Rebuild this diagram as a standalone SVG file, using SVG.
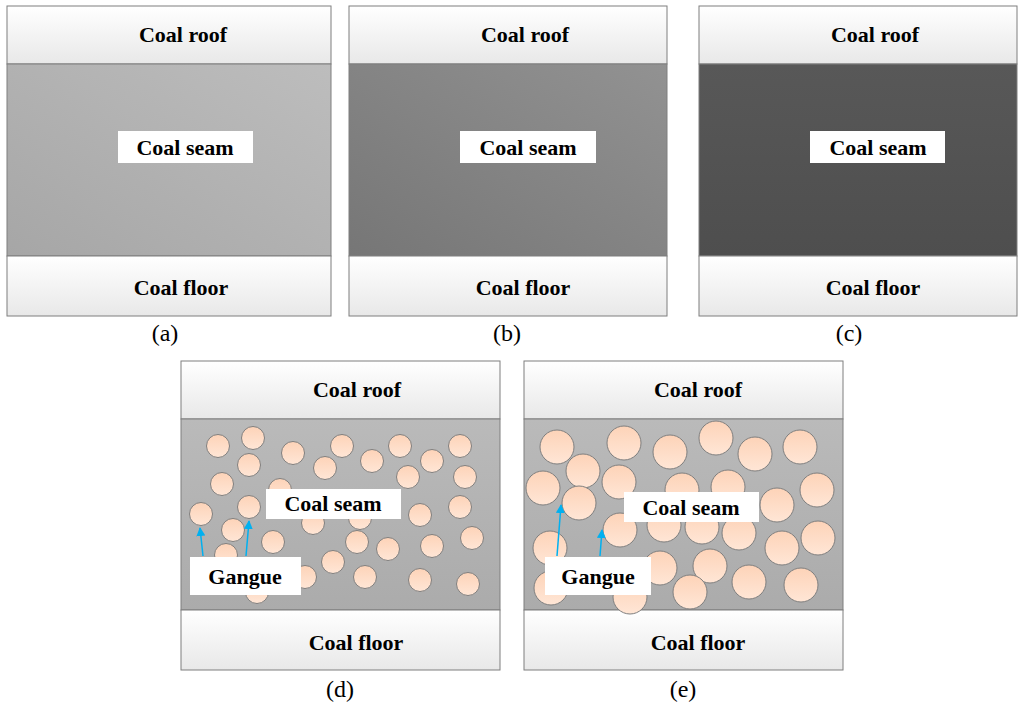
<svg xmlns="http://www.w3.org/2000/svg" width="1024" height="712" viewBox="0 0 1024 712">
<defs>
<linearGradient id="rf" x1="0" y1="0" x2="0" y2="1"><stop offset="0" stop-color="#ffffff"/><stop offset="1" stop-color="#e8e8e8"/></linearGradient>
<linearGradient id="sa" x1="1" y1="0" x2="0" y2="1"><stop offset="0" stop-color="#bdbdbd"/><stop offset="1" stop-color="#a6a6a6"/></linearGradient>
<linearGradient id="sb" x1="1" y1="0" x2="0" y2="1"><stop offset="0" stop-color="#929292"/><stop offset="1" stop-color="#767676"/></linearGradient>
<linearGradient id="sc" x1="0" y1="0" x2="0" y2="1"><stop offset="0" stop-color="#585858"/><stop offset="1" stop-color="#4e4e4e"/></linearGradient>
<linearGradient id="sd" x1="0" y1="0" x2="0" y2="1"><stop offset="0" stop-color="#bababa"/><stop offset="1" stop-color="#ababab"/></linearGradient>
<linearGradient id="g" x1="0" y1="0" x2="0" y2="1"><stop offset="0" stop-color="#fdd3b8"/><stop offset="1" stop-color="#ffe6d6"/></linearGradient>
<marker id="ar" viewBox="0 0 10 10" refX="9" refY="5" markerWidth="6" markerHeight="6" orient="auto"><path d="M0,0 L10,5 L0,10 z" fill="#00b0f0"/></marker>
</defs>
<style>
.b{stroke:#7f7f7f;stroke-width:1}
.t{font-family:"Liberation Serif",serif;font-weight:bold;font-size:22px;text-anchor:middle;fill:#000}
.c{font-family:"Liberation Serif",serif;font-size:24px;text-anchor:middle;fill:#000}
.w{fill:#fff}
.d circle{r:11.5px}
circle{fill:url(#g);stroke:#7f7f7f;stroke-width:1}
.ln{stroke:#00b0f0;stroke-width:1.5;fill:none;marker-end:url(#ar)}
</style>
<rect width="1024" height="712" fill="#fff"/>
<g id="pa">
<rect class="b" x="7" y="6" width="324" height="58" fill="url(#rf)"/>
<rect class="b" x="7" y="64" width="324" height="192" fill="url(#sa)"/>
<rect class="b" x="7" y="256" width="324" height="60" fill="url(#rf)"/>
<text class="t" x="183" y="42">Coal roof</text>
<rect class="w" x="118" y="131" width="135" height="32"/><text class="t" x="185" y="155">Coal seam</text>
<text class="t" x="181" y="295">Coal floor</text>
<text class="c" x="165" y="341">(a)</text>
</g>
<g id="pb">
<rect class="b" x="349" y="6" width="318" height="58" fill="url(#rf)"/>
<rect class="b" x="349" y="64" width="318" height="192" fill="url(#sb)"/>
<rect class="b" x="349" y="256" width="318" height="60" fill="url(#rf)"/>
<text class="t" x="525" y="42">Coal roof</text>
<rect class="w" x="460" y="131" width="136" height="32"/><text class="t" x="528" y="155">Coal seam</text>
<text class="t" x="523" y="295">Coal floor</text>
<text class="c" x="507" y="341">(b)</text>
</g>
<g id="pc">
<rect class="b" x="699" y="6" width="318" height="58" fill="url(#rf)"/>
<rect class="b" x="699" y="64" width="318" height="192" fill="url(#sc)"/>
<rect class="b" x="699" y="256" width="318" height="60" fill="url(#rf)"/>
<text class="t" x="875" y="42">Coal roof</text>
<rect class="w" x="810" y="131" width="135" height="32"/><text class="t" x="878" y="155">Coal seam</text>
<text class="t" x="873" y="295">Coal floor</text>
<text class="c" x="849" y="341">(c)</text>
</g>
<g id="pd">
<rect class="b" x="181" y="361" width="319" height="58" fill="url(#rf)"/>
<rect class="b" x="181" y="419" width="319" height="191" fill="url(#sd)"/>
<rect class="b" x="181" y="610" width="319" height="60" fill="url(#rf)"/>
<g class="d">
<circle cx="218" cy="446" r="11.5"/><circle cx="253" cy="438" r="11.5"/><circle cx="293" cy="453" r="11.5"/><circle cx="342" cy="446" r="11.5"/><circle cx="372" cy="461" r="11.5"/><circle cx="325" cy="468" r="11.5"/><circle cx="400" cy="446" r="11.5"/><circle cx="432" cy="461" r="11.5"/><circle cx="460" cy="446" r="11.5"/><circle cx="249" cy="465" r="11.5"/><circle cx="222" cy="484" r="11.5"/><circle cx="408" cy="477" r="11.5"/><circle cx="465" cy="477" r="11.5"/><circle cx="280" cy="490" r="11.5"/><circle cx="201" cy="514" r="11.5"/><circle cx="249" cy="507" r="11.5"/><circle cx="233" cy="530" r="11.5"/><circle cx="313" cy="523" r="11.5"/><circle cx="360" cy="518" r="11.5"/><circle cx="420" cy="515" r="11.5"/><circle cx="460" cy="507" r="11.5"/><circle cx="273" cy="542" r="11.5"/><circle cx="357" cy="542" r="11.5"/><circle cx="388" cy="549" r="11.5"/><circle cx="432" cy="546" r="11.5"/><circle cx="472" cy="538" r="11.5"/><circle cx="226" cy="555" r="11.5"/><circle cx="333" cy="562" r="11.5"/><circle cx="305" cy="577" r="11.5"/><circle cx="365" cy="577" r="11.5"/><circle cx="420" cy="580" r="11.5"/><circle cx="468" cy="584" r="11.5"/><circle cx="257" cy="592" r="11.5"/>
</g>
<rect class="w" x="266" y="489" width="135" height="30"/><text class="t" x="333" y="511">Coal seam</text>
<rect class="w" x="190" y="557" width="111" height="38"/><text class="t" x="245" y="584">Gangue</text>
<text class="t" x="356" y="650">Coal floor</text>
<text class="t" x="357" y="397">Coal roof</text>
<text class="c" x="340" y="697">(d)</text>
</g>
<g id="pe">
<rect class="b" x="524" y="361" width="319" height="58" fill="url(#rf)"/>
<rect class="b" x="524" y="419" width="319" height="191" fill="url(#sd)"/>
<rect class="b" x="524" y="610" width="319" height="60" fill="url(#rf)"/>
<g>
<circle cx="557" cy="447" r="17"/><circle cx="624" cy="443" r="17"/><circle cx="670" cy="452" r="17"/><circle cx="716" cy="438" r="17"/><circle cx="755" cy="454" r="17"/><circle cx="800" cy="447" r="17"/><circle cx="583" cy="471" r="17"/><circle cx="619" cy="482" r="17"/><circle cx="543" cy="488" r="17"/><circle cx="579" cy="503" r="17"/><circle cx="682" cy="490" r="17"/><circle cx="728" cy="487" r="17"/><circle cx="777" cy="505" r="17"/><circle cx="817" cy="490" r="17"/><circle cx="620" cy="530" r="17"/><circle cx="664" cy="525" r="17"/><circle cx="702" cy="527" r="17"/><circle cx="739" cy="533" r="17"/><circle cx="782" cy="548" r="17"/><circle cx="818" cy="538" r="17"/><circle cx="550" cy="548" r="17"/><circle cx="660" cy="568" r="17"/><circle cx="710" cy="566" r="17"/><circle cx="749" cy="582" r="17"/><circle cx="801" cy="585" r="17"/><circle cx="690" cy="592" r="17"/><circle cx="551" cy="588" r="17"/><circle cx="630" cy="597" r="17"/>
</g>
<rect class="w" x="624" y="492" width="135" height="30"/><text class="t" x="691" y="515">Coal seam</text>
<rect class="w" x="545" y="557" width="106" height="38"/><text class="t" x="598" y="584">Gangue</text>
<text class="t" x="698" y="397">Coal roof</text>
<text class="t" x="698" y="650">Coal floor</text>
<text class="c" x="683" y="697">(e)</text>
</g>
<g id="connectors">
<path class="ln" d="M203,556 L200,528"/>
<path class="ln" d="M246,556 L249,521"/>
<path class="ln" d="M557,556 L561,505"/>
<path class="ln" d="M600,556 L602,530"/>
</g>
</svg>
